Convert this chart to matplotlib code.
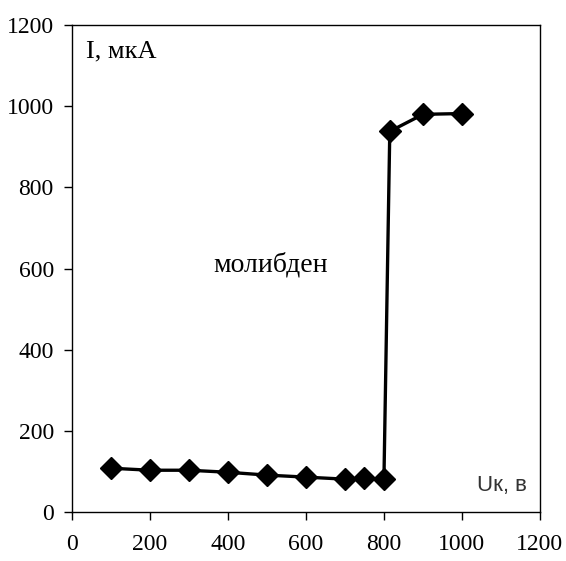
import matplotlib
matplotlib.use("Agg")
import matplotlib.pyplot as plt

# напряжение, В и ток, мкА
U = [100, 200, 300, 400, 500, 600, 700, 750, 800, 815, 900, 1000]
I = [108, 103, 103, 98, 91, 86, 81, 83, 81, 938, 980, 982]

xticks = [0, 200, 400, 600, 800, 1000, 1200]
yticks = [0, 200, 400, 600, 800, 1000, 1200]

serif = ['Liberation Serif', 'DejaVu Serif']

fig = plt.figure(figsize=(5.66, 5.61), dpi=100)
ax = fig.add_axes([0.127, 0.0873, 0.827, 0.868])

ax.plot(U, I, color='black', lw=2.4, marker='D', ms=11.5, mfc='black', mec='black')

ax.set_xlim(0, 1200)
ax.set_ylim(0, 1200)
ax.set_xticks(xticks)
ax.set_yticks(yticks)
ax.tick_params(direction='out', length=6, width=1, labelsize=17)
ax.tick_params(axis='x', pad=10)
ax.tick_params(axis='y', pad=7)
for lab in ax.get_xticklabels() + ax.get_yticklabels():
    lab.set_family(serif)
for s in ax.spines.values():
    s.set_linewidth(1)

ax.text(0.03, 0.968, 'I, мкА', transform=ax.transAxes, fontsize=19,
        family=serif, va='top', ha='left')
ax.text(0.425, 0.507, 'молибден', transform=ax.transAxes, fontsize=20,
        family=serif, va='center', ha='center')
ax.text(0.972, 0.055, 'Uк, в', transform=ax.transAxes, fontsize=16,
        family=['Liberation Sans', 'DejaVu Sans'], va='center', ha='right', color='#333333')

fig.savefig('out.png', dpi=100)
